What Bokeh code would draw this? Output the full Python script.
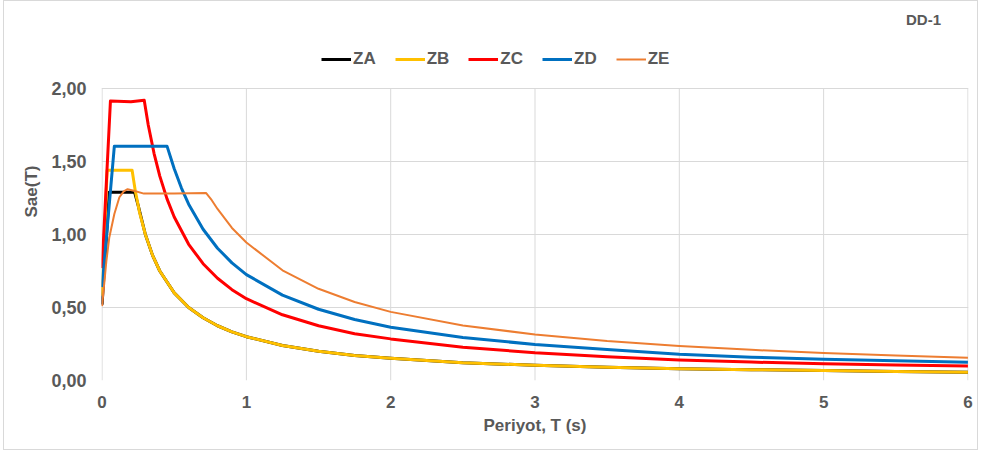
from bokeh.plotting import figure
from bokeh.models import Range1d, FixedTicker, Legend, LegendItem, Label
from bokeh.embed import file_html
from bokeh.resources import INLINE

# ---- data ----
za_t = [0.0, 0.05, 0.225, 0.25, 0.3, 0.35, 0.4, 0.5, 0.6, 0.7, 0.8, 0.9, 1.0,
        1.25, 1.5, 1.75, 2.0, 2.5, 3.0, 3.5, 4.0, 4.5, 5.0, 5.5, 6.0]
za_sae = [0.52, 1.29, 1.29, 1.20, 1.00, 0.857, 0.75, 0.60, 0.50, 0.43, 0.375, 0.333, 0.30,
          0.24, 0.20, 0.172, 0.152, 0.122, 0.104, 0.090, 0.080, 0.074, 0.068, 0.062, 0.057]

zb_t = [0.0, 0.035, 0.208, 0.23, 0.26, 0.3, 0.35, 0.4, 0.5, 0.6, 0.7, 0.8, 0.9, 1.0,
        1.25, 1.5, 1.75, 2.0, 2.5, 3.0, 3.5, 4.0, 4.5, 5.0, 5.5, 6.0]
zb_sae = [0.58, 1.44, 1.44, 1.30, 1.15, 1.00, 0.857, 0.75, 0.60, 0.50, 0.43, 0.375, 0.333, 0.30,
          0.24, 0.20, 0.172, 0.152, 0.122, 0.104, 0.090, 0.080, 0.074, 0.068, 0.062, 0.057]

zc_t = [0.0, 0.058, 0.2, 0.292, 0.32, 0.36, 0.4, 0.45, 0.5, 0.6, 0.7, 0.8, 0.9, 1.0,
        1.25, 1.5, 1.75, 2.0, 2.5, 3.0, 3.5, 4.0, 4.5, 5.0, 5.5, 6.0]
zc_sae = [0.77, 1.915, 1.91, 1.92, 1.75, 1.556, 1.40, 1.244, 1.12, 0.933, 0.80, 0.70, 0.622, 0.56,
          0.45, 0.375, 0.32, 0.285, 0.228, 0.19, 0.163, 0.141, 0.126, 0.114, 0.106, 0.100]

zd_t = [0.0, 0.085, 0.45, 0.5, 0.55, 0.6, 0.7, 0.8, 0.9, 1.0,
        1.25, 1.5, 1.75, 2.0, 2.5, 3.0, 3.5, 4.0, 4.5, 5.0, 5.5, 6.0]
zd_sae = [0.64, 1.605, 1.605, 1.45, 1.318, 1.208, 1.036, 0.906, 0.806, 0.725,
          0.585, 0.488, 0.418, 0.365, 0.294, 0.247, 0.212, 0.180, 0.160, 0.146, 0.135, 0.125]

ze_t = [0.0, 0.03, 0.05, 0.085, 0.12, 0.15, 0.177, 0.22, 0.29, 0.5, 0.72, 0.76, 0.8, 0.9, 1.0,
        1.25, 1.5, 1.75, 2.0, 2.5, 3.0, 3.5, 4.0, 4.5, 5.0, 5.5, 6.0]
ze_sae = [0.51, 0.82, 0.98, 1.14, 1.255, 1.295, 1.31, 1.30, 1.28, 1.28, 1.285, 1.235, 1.175, 1.045, 0.945,
          0.755, 0.628, 0.538, 0.47, 0.377, 0.315, 0.27, 0.236, 0.21, 0.188, 0.171, 0.155]

series_names = ["ZA", "ZB", "ZC", "ZD", "ZE"]
series_colors = ["#000000", "#FFC000", "#FF0000", "#0070C0", "#ED7D31"]
series_widths = [3, 3, 3, 3, 2]

x_ticks = [0, 1, 2, 3, 4, 5, 6]
x_tick_labels = ["0", "1", "2", "3", "4", "5", "6"]
y_ticks = [0, 0.5, 1.0, 1.5, 2.0]
y_tick_labels = ["0,00", "0,50", "1,00", "1,50", "2,00"]
y_max = 2.0

FONT = "Liberation Sans"
GRAY = "#595959"
GRID = "#d9d9d9"

# frame extends above the 2,00 line so the legend and the DD-1 tag sit inside it
p = figure(width=975, height=450, output_backend="svg", toolbar_location=None,
           x_range=Range1d(-0.004, 6.004), y_range=Range1d(0, 2.589), title=None,
           min_border_left=97, min_border_right=11, min_border_top=1, min_border_bottom=71)
p.styles = {"border": "1px solid #d9d9d9", "margin-left": "3px"}
p.outline_line_color = None
p.background_fill_color = "white"
p.border_fill_color = "white"

# grid: horizontal via grid, vertical drawn only up to 2,00
p.xgrid.visible = False
p.ygrid.ticker = FixedTicker(ticks=y_ticks)
p.ygrid.grid_line_color = GRID
p.segment(x0=x_ticks, y0=[0] * len(x_ticks), x1=x_ticks, y1=[y_max] * len(x_ticks),
          line_color=GRID, line_width=1)

# axes
p.xaxis.ticker = FixedTicker(ticks=x_ticks)
p.yaxis.ticker = FixedTicker(ticks=y_ticks)
p.xaxis.major_label_overrides = {t: l for t, l in zip(x_ticks, x_tick_labels)}
p.yaxis.major_label_overrides = {t: l for t, l in zip(y_ticks, y_tick_labels)}
for ax in (p.xaxis, p.yaxis):
    ax.axis_line_color = None
    ax.major_tick_line_color = None
    ax.minor_tick_line_color = None
    ax.major_tick_out = 0
    ax.major_tick_in = 0
    ax.minor_tick_out = 0
    ax.minor_tick_in = 0
    ax.major_label_text_font = FONT
    ax.major_label_text_font_style = "bold"
    ax.major_label_text_color = GRAY
    ax.axis_label_text_font = FONT
    ax.axis_label_text_font_style = "bold"
    ax.axis_label_text_font_size = "17px"
    ax.axis_label_text_color = GRAY
p.xaxis.major_label_text_font_size = "17px"
p.yaxis.major_label_text_font_size = "18px"
p.xaxis.axis_label = "Periyot, T (s)"
p.yaxis.axis_label = "Sae(T)"
p.xaxis.major_label_standoff = 15
p.yaxis.major_label_standoff = 15
p.xaxis.axis_label_standoff = 5
p.yaxis.axis_label_standoff = 7

data = [(za_t, za_sae), (zb_t, zb_sae), (zc_t, zc_sae), (zd_t, zd_sae), (ze_t, ze_sae)]
items = []
for (t, s), name, col, w in zip(data, series_names, series_colors, series_widths):
    r = p.line(t, s, line_color=col, line_width=w, line_join="round")
    items.append(LegendItem(label=name, renderers=[r]))

legend = Legend(items=items, orientation="horizontal", location=(220, 311),
                label_text_font=FONT, label_text_font_style="bold",
                label_text_font_size="17px", label_text_color=GRAY,
                glyph_width=30, glyph_height=20, label_standoff=2, spacing=19,
                padding=5, margin=0, border_line_color=None, background_fill_alpha=0)
p.add_layout(legend, "center")

dd = Label(x=822, y=361, x_units="screen", y_units="screen", text="DD-1",
           text_font=FONT, text_font_style="bold", text_font_size="15px",
           text_color=GRAY, text_align="center", text_baseline="middle")
p.add_layout(dd)

open("out.html", "w").write(file_html(p, INLINE))
